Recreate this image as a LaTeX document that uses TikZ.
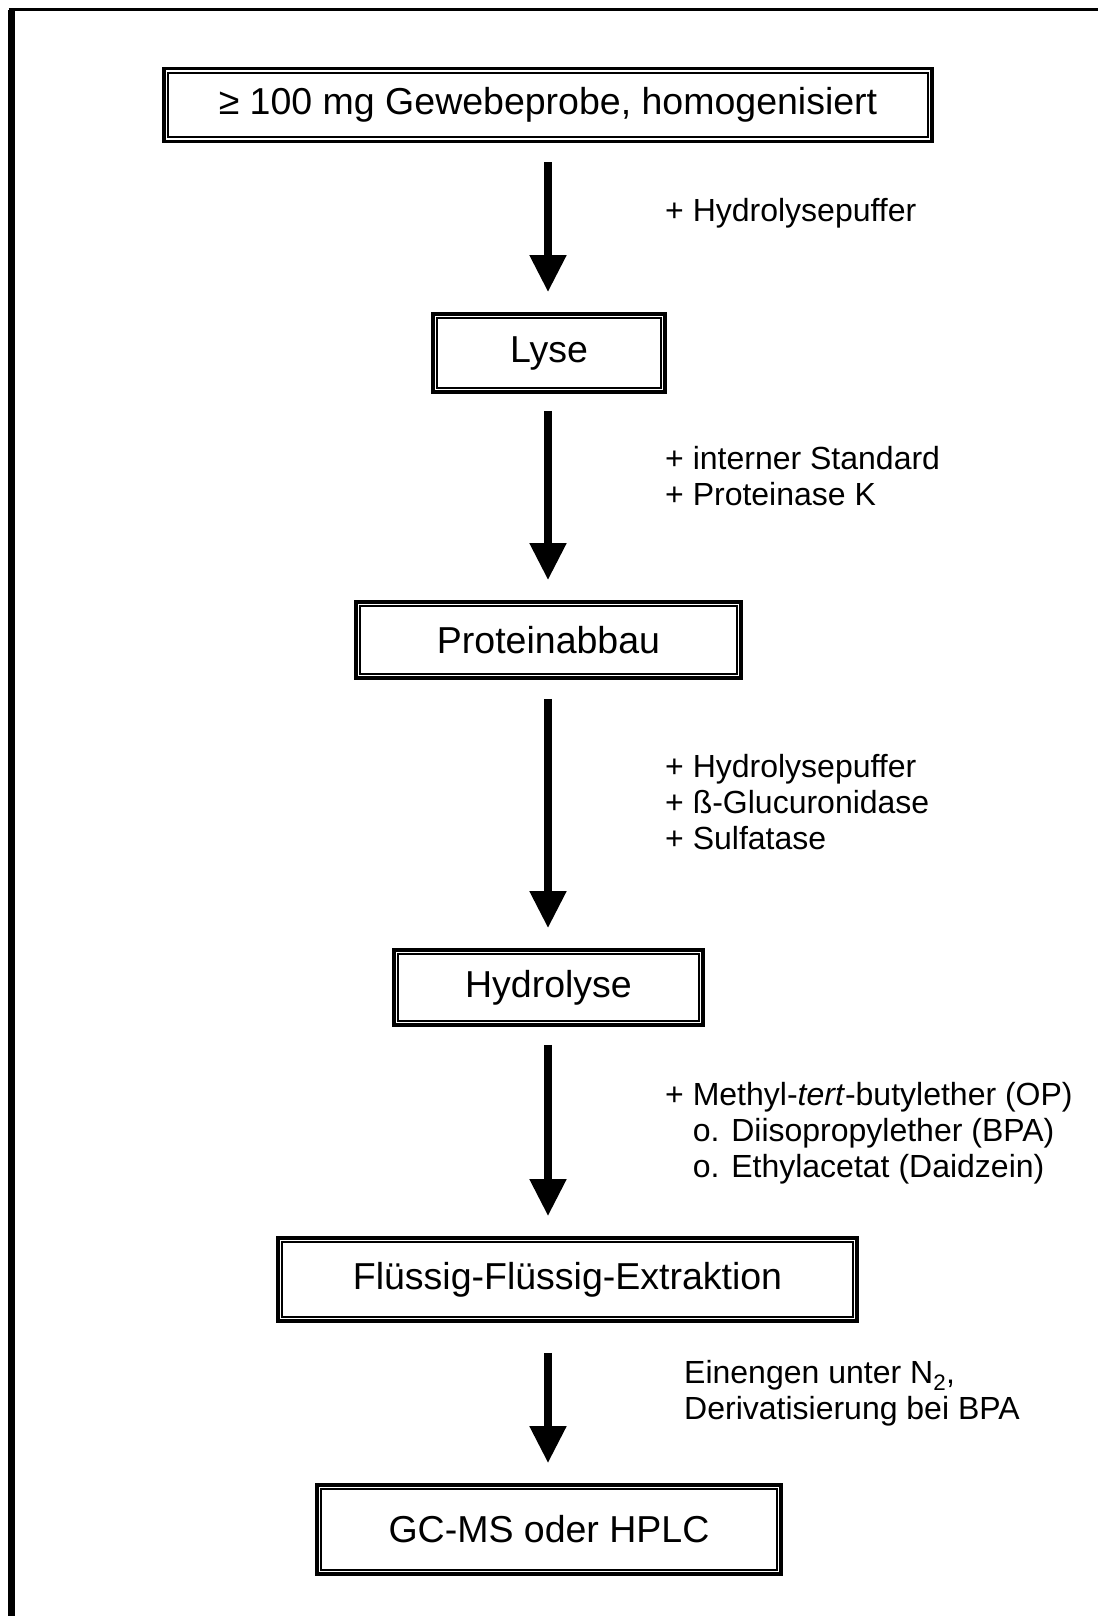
\documentclass[tikz,border=0pt]{standalone}
\usepackage{fontspec}
\setmainfont{Liberation Sans}
\usetikzlibrary{arrows.meta}

\tikzset{
  procbox/.style={draw, line width=2.8pt, inner sep=0pt, align=center,
    font=\fontsize{37.5}{40}\selectfont},
  addlabel/.style={anchor=base west, inner sep=0pt, align=left,
    font=\fontsize{32}{36}\selectfont},
  flow/.style={line width=8pt, -{Triangle[width=35pt,length=37pt]}}
}

\begin{document}
\begin{tikzpicture}[x=1pt,y=1pt]
\useasboundingbox (0,0) rectangle (1098,-1616);

% outer frame (only left and top edge visible)
\draw[line width=6.5pt] (11.7,-1616) -- (11.7,-9.7);
\draw[line width=3pt] (8.5,-9.7) -- (1098,-9.7);

% process steps
\node[procbox, minimum width=769, minimum height=74] (probe) at (548,-105) {≥ 100 mg Gewebeprobe, homogenisiert};
\node[procbox, minimum width=233, minimum height=79] (lyse) at (549,-353) {Lyse};
\node[procbox, minimum width=386, minimum height=77] (abbau) at (548.5,-640) {Proteinabbau};
\node[procbox, minimum width=310, minimum height=76] (hydro) at (548.5,-987.5) {Hydrolyse};
\node[procbox, minimum width=580, minimum height=84] (extr) at (567.5,-1279.5) {Flüssig-Flüssig-Extraktion};
\node[procbox, minimum width=465, minimum height=90] (analyse) at (549,-1529.5) {GC-MS oder HPLC};

% inner lines of the frames
\foreach \n in {probe,lyse,abbau,hydro,extr,analyse}{
  \draw[line width=1pt] ([shift={(3.2,-3.2)}]\n.north west) rectangle ([shift={(-3.2,3.2)}]\n.south east);
  \draw[line width=1.8pt] ([shift={(6.2,-6.2)}]\n.north west) rectangle ([shift={(-6.2,6.2)}]\n.south east);
}

% arrows
\coordinate (ax) at (548,0);
\foreach \a/\b/\s in {probe/lyse/19,lyse/abbau/17,abbau/hydro/19,hydro/extr/18,extr/analyse/30}
  \draw[flow, shorten <=\s pt, shorten >=20pt] (\a.south -| ax) -- (\b.north -| ax);

% added reagents (anchored at the baseline of the last line)
\node[addlabel] (addbuf) at (665,-222) {+ Hydrolysepuffer};
\node[addlabel] (addstd) at (665,-505) {+ interner Standard\\+ Proteinase K};
\node[addlabel] (addenz) at (665,-849) {+ Hydrolysepuffer\\+ ß-Glucuronidase\\+ Sulfatase};
\node[addlabel] (addsolv) at (665,-1177) {+ Methyl-\textit{tert}-butylether (OP)\\\phantom{+} o. Diisopropylether (BPA)\\\phantom{+} o. Ethylacetat (Daidzein)};
\node[addlabel] (evap) at (684,-1419) {Einengen unter N\textsubscript{2},\\Derivatisierung bei BPA};
\end{tikzpicture}
\end{document}
